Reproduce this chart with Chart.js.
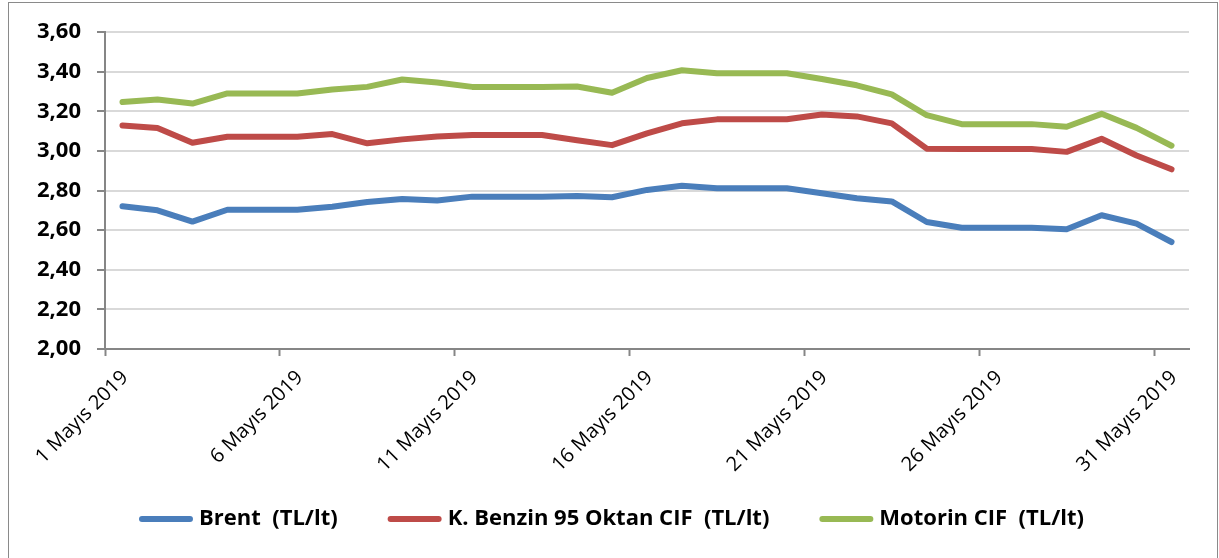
<!DOCTYPE html>
<html>
<head>
<meta charset="utf-8">
<script src="https://cdn.jsdelivr.net/npm/chart.js@4.4.0/dist/chart.umd.min.js"></script>
<style>
  html, body { margin: 0; padding: 0; background: #fff; }
  body { width: 1219px; height: 558px; position: relative; overflow: hidden; }
  #wrap { position: absolute; left: 0; top: 0; width: 1219px; height: 558px; }
  #frame { position: absolute; left: 8px; top: 2px; width: 1208px; height: 600px; border: 1.5px solid #8a8a8a; pointer-events: none; }
</style>
</head>
<body>
<div id="wrap"><canvas id="c" width="1219" height="558"></canvas></div>
<div id="frame"></div>
<script>
const days = [1,2,3,4,5,6,7,8,9,10,11,12,13,14,15,16,17,18,19,20,21,22,23,24,25,26,27,28,29,30,31];
const tickDays = [1,6,11,16,21,26,31];
const tickLabels = ['1 Mayıs 2019','6 Mayıs 2019','11 Mayıs 2019','16 Mayıs 2019','21 Mayıs 2019','26 Mayıs 2019','31 Mayıs 2019'];
const seriesNames = ['Brent  (TL/lt)','K. Benzin 95 Oktan CIF  (TL/lt)','Motorin CIF  (TL/lt)'];
const brent = [2.72,2.70,2.643,2.703,2.703,2.703,2.718,2.742,2.757,2.749,2.769,2.769,2.769,2.772,2.766,2.803,2.824,2.811,2.811,2.811,2.786,2.761,2.745,2.641,2.612,2.612,2.612,2.604,2.675,2.633,2.54];
const benzin = [3.128,3.116,3.041,3.071,3.071,3.071,3.085,3.038,3.058,3.072,3.08,3.08,3.08,3.054,3.029,3.088,3.139,3.159,3.159,3.16,3.184,3.174,3.139,3.011,3.01,3.01,3.01,2.995,3.061,2.977,2.907];
const motorin = [3.247,3.259,3.239,3.29,3.29,3.29,3.31,3.323,3.36,3.345,3.323,3.323,3.323,3.325,3.293,3.368,3.407,3.392,3.392,3.392,3.363,3.331,3.285,3.18,3.135,3.135,3.135,3.122,3.187,3.116,3.026];
const yMin = 2.0, yMax = 3.6, yStep = 0.2;
const colors = ['#4A7EBB','#BE4B48','#98B954'];

function pts(vals) { return days.map((d, i) => ({ x: d, y: vals[i] })); }

const ds = [brent, benzin, motorin].map((v, i) => ({
  label: seriesNames[i],
  data: pts(v),
  borderColor: colors[i],
  backgroundColor: colors[i],
  borderWidth: 6,
  borderCapStyle: 'round',
  borderJoinStyle: 'round',
  pointRadius: 0,
  pointHoverRadius: 0,
  tension: 0,
  fill: false
}));

// Legend drawn from the datasets (Excel-like spacing)
const legendPlugin = {
  id: 'xlLegend',
  afterDraw(chart) {
    const ctx = chart.ctx;
    const lineW = 54, gapText = 6, gapItem = 50;
    ctx.save();
    ctx.font = 'bold 22px "Open Sans"';
    const items = chart.data.datasets.map(d => ({ label: d.label, color: d.borderColor, w: ctx.measureText(d.label).width }));
    const total = items.reduce((s, it) => s + lineW + gapText + it.w, 0) + gapItem * (items.length - 1);
    let x = (chart.width + 4) / 2 - total / 2;
    const y = chart.chartArea.bottom + 170;
    items.forEach(it => {
      ctx.strokeStyle = it.color;
      ctx.lineWidth = 6;
      ctx.lineCap = 'round';
      ctx.beginPath();
      ctx.moveTo(x + 3, y);
      ctx.lineTo(x + lineW - 3, y);
      ctx.stroke();
      x += lineW + gapText;
      ctx.fillStyle = '#000';
      ctx.textBaseline = 'middle';
      ctx.textAlign = 'left';
      ctx.fillText(it.label, x, y);
      x += it.w + gapItem;
    });
    ctx.restore();
  }
};

new Chart(document.getElementById('c'), {
  type: 'line',
  data: { datasets: ds },
  plugins: [legendPlugin],
  options: {
    responsive: false,
    animation: false,
    events: [],
    layout: { padding: { left: 0, right: 30, top: 32, bottom: 60 } },
    plugins: {
      tooltip: { enabled: false },
      legend: { display: false }
    },
    scales: {
      x: {
        type: 'linear',
        min: 0.5,
        max: 31.5,
        afterBuildTicks: (s) => { s.ticks = tickDays.map(d => ({ value: d - 0.5 })); },
        afterFit: (s) => { s.height = 149; },
        ticks: {
          autoSkip: false,
          maxRotation: 45,
          minRotation: 45,
          labelOffset: 20,
          padding: 10,
          color: '#000',
          font: { family: 'Open Sans', size: 20 },
          callback: (v) => { const i = tickDays.indexOf(Math.round(v + 0.5)); return i >= 0 ? tickLabels[i] : ''; }
        },
        grid: { drawOnChartArea: false, drawTicks: true, tickLength: 7, tickColor: '#868686', tickWidth: 2 },
        border: { display: true, color: '#868686', width: 2 }
      },
      y: {
        min: yMin,
        max: yMax,
        afterBuildTicks: (s) => { const t = []; for (let k = 0; k <= Math.round((yMax - yMin) / yStep); k++) t.push({ value: +(yMin + k * yStep).toFixed(2) }); s.ticks = t; },
        afterFit: (s) => { s.width = 105; },
        ticks: {
          padding: 16,
          color: '#000',
          font: { family: 'Open Sans', weight: 'bold', size: 22 },
          callback: (v) => v.toFixed(2).replace('.', ',')
        },
        grid: { color: '#d9d9d9', lineWidth: 2, tickLength: 8, tickColor: '#868686', tickWidth: 2 },
        border: { display: true, color: '#868686', width: 2 }
      }
    }
  }
});
</script>
</body>
</html>
